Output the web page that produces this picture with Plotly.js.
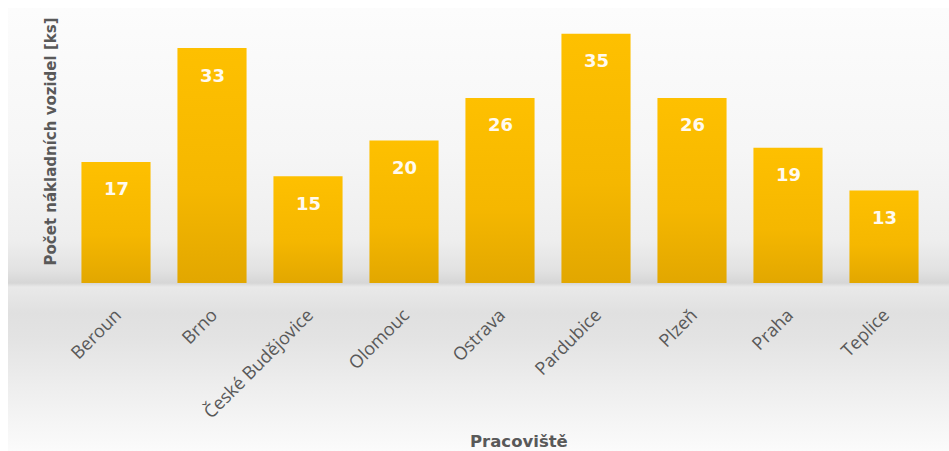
<!DOCTYPE html>
<html>
<head>
<meta charset="utf-8">
<script src="https://cdn.plot.ly/plotly-3.0.1.min.js"></script>
<style>
  html, body { margin: 0; padding: 0; background: #ffffff; }
  #wrap { position: relative; width: 949px; height: 451px; overflow: hidden; }
  #bg { position: absolute; left: 8px; top: 8px; width: 941px; height: 443px;
    background: linear-gradient(to bottom,
      #fcfcfc 0px, #f6f6f6 142px, #eeeeee 232px, #e2e2e2 262px, #d6d6d6 275px,
      #e9e9e9 279px, #e0e0e0 305px, #e3e3e3 330px, #eeeeee 380px, #fbfbfb 443px); }
  #chart { position: absolute; left: 0; top: 0; width: 949px; height: 451px; }
</style>
</head>
<body>
<div id="wrap"><div id="bg"></div><div id="chart"></div></div>
<script>
const categories = ["Beroun", "Brno", "České Budějovice", "Olomouc", "Ostrava", "Pardubice", "Plzeň", "Praha", "Teplice"];
const values = [17, 33, 15, 20, 26, 35, 26, 19, 13];
const yTitle = "Počet nákladních vozidel [ks]";
const xTitle = "Pracoviště";

const trace = {
  type: "bar",
  x: categories,
  y: values,
  marker: { color: "#F2B600", line: { width: 0 } },
  hoverinfo: "x+y"
};

const labelAnnotations = categories.map((c, i) => ({
  x: c, y: values[i], xref: "x", yref: "y",
  text: String(values[i]), showarrow: false, yshift: -27,
  font: { family: "DejaVu Sans", size: 18, color: "#fffaf0", weight: "bold" }
}));

const layout = {
  width: 949, height: 451,
  margin: { l: 68, r: 17, t: 0, b: 168 },
  paper_bgcolor: "rgba(0,0,0,0)",
  plot_bgcolor: "rgba(0,0,0,0)",
  bargap: 0.28,
  showlegend: false,
  xaxis: {
    type: "category",
    tickangle: -45,
    ticks: "",
    showline: false,
    showgrid: false,
    zeroline: false,
    ticklabelstandoff: 17,
    tickfont: { family: "Open Sans", size: 18, color: "#595959" }
  },
  yaxis: {
    range: [0, 39.75],
    showticklabels: false,
    showgrid: false,
    zeroline: false,
    showline: false,
    ticks: ""
  },
  annotations: labelAnnotations.concat([
    { text: yTitle, xref: "paper", yref: "paper", x: -0.0197, y: 0.5,
      textangle: -90, showarrow: false, xanchor: "center", yanchor: "middle",
      font: { family: "DejaVu Sans", size: 15, color: "#595959", weight: "bold" } },
    { text: xTitle, xref: "paper", yref: "paper", x: 0.5225, y: -0.56,
      showarrow: false, xanchor: "center", yanchor: "middle",
      font: { family: "DejaVu Sans", size: 16.5, color: "#595959", weight: "bold" } }
  ])
};

function applyGradient(gd) {
  const svg = gd.querySelector("svg.main-svg");
  if (!svg) return;
  let defs = svg.querySelector("defs");
  if (!defs) { defs = document.createElementNS("http://www.w3.org/2000/svg", "defs"); svg.insertBefore(defs, svg.firstChild); }
  if (!svg.querySelector("#barGrad")) {
    const ns = "http://www.w3.org/2000/svg";
    const lg = document.createElementNS(ns, "linearGradient");
    lg.setAttribute("id", "barGrad");
    lg.setAttribute("x1", "0"); lg.setAttribute("y1", "0");
    lg.setAttribute("x2", "0"); lg.setAttribute("y2", "1");
    [["0", "#FEC000"], ["0.6", "#F5B700"], ["1", "#E2A700"]].forEach(([o, c]) => {
      const s = document.createElementNS(ns, "stop");
      s.setAttribute("offset", o); s.setAttribute("stop-color", c);
      lg.appendChild(s);
    });
    defs.appendChild(lg);
  }
  gd.querySelectorAll(".trace.bars .point path").forEach(p => { p.style.fill = "url(#barGrad)"; });
}

const gd = document.getElementById("chart");
Plotly.newPlot(gd, [trace], layout, { displayModeBar: false, staticPlot: true }).then(() => {
  applyGradient(gd);
  gd.on && gd.on("plotly_afterplot", () => applyGradient(gd));
});
</script>
</body>
</html>
